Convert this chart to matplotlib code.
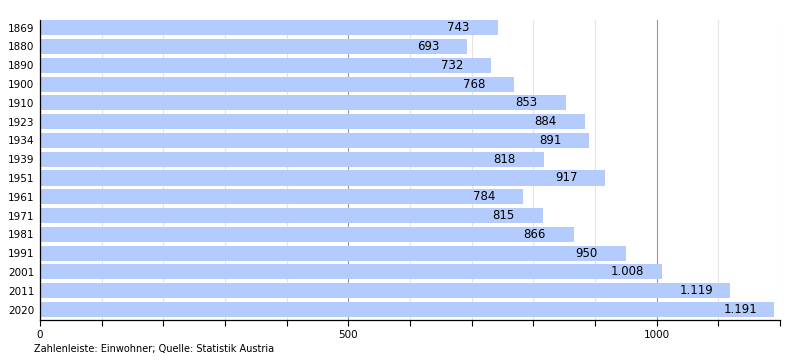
import matplotlib.pyplot as plt
from matplotlib.ticker import MultipleLocator

years = ["1869", "1880", "1890", "1900", "1910", "1923", "1934", "1939",
         "1951", "1961", "1971", "1981", "1991", "2001", "2011", "2020"]
population = [743, 693, 732, 768, 853, 884, 891, 818,
              917, 784, 815, 866, 950, 1008, 1119, 1191]

def fmt(v):
    return f"{v:,}".replace(",", ".")

fig = plt.figure(figsize=(8, 3.6), dpi=100)
ax = fig.add_axes([0.05, 0.111, 0.925, 0.833])

pos = list(range(len(years)))
ax.barh(pos, population, height=0.8, color="#b3cbfd", zorder=2)

# labels start a fixed distance left of the bar end
for i, v in enumerate(population):
    ax.annotate(fmt(v), (v, i), xytext=(-36.5, 0), textcoords="offset points",
                ha="left", va="center", fontsize=8.5, color="black", zorder=3)

ax.set_xlim(0, 1200)
ax.set_ylim(15.56, -0.4)
ax.set_yticks(pos)
ax.set_yticklabels(years, fontsize=7.5)
ax.tick_params(axis="y", length=0, pad=4)

ax.xaxis.set_major_locator(MultipleLocator(500))
ax.xaxis.set_minor_locator(MultipleLocator(100))
ax.tick_params(axis="x", which="both", direction="out", length=4, width=0.8,
               labelsize=7.5, pad=3)
ax.grid(axis="x", which="major", color="#999999", lw=0.8, zorder=0)
ax.grid(axis="x", which="minor", color="#e4e4e4", lw=0.8, zorder=0)

for s in ["top", "right"]:
    ax.spines[s].set_visible(False)
ax.spines["left"].set_linewidth(0.9)
ax.spines["bottom"].set_linewidth(0.9)

fig.text(0.042, 0.03, "Zahlenleiste: Einwohner; Quelle: Statistik Austria",
         fontsize=7, ha="left", va="center")

fig.savefig("out.png", dpi=100)
